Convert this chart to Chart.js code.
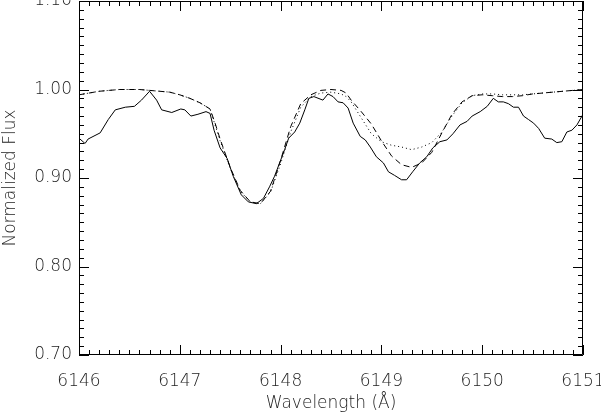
<!DOCTYPE html>
<html>
<head>
<meta charset="utf-8">
<script src="https://cdn.jsdelivr.net/npm/chart.js@4/dist/chart.umd.min.js"></script>
<style>
  html, body { margin: 0; padding: 0; background: #fff; }
  #wrap { width: 601px; height: 414px; }
</style>
</head>
<body>
<div id="wrap"><canvas id="fluxChart" width="601" height="414"></canvas></div>
<script>
// observed spectrum (solid line)
var obsWave = [6146.00, 6146.06, 6146.09, 6146.21, 6146.29, 6146.36, 6146.46, 6146.55, 6146.62, 6146.70,
  6146.77, 6146.82, 6146.92, 6147.01, 6147.05, 6147.11, 6147.18, 6147.26, 6147.30, 6147.34,
  6147.40, 6147.47, 6147.53, 6147.61, 6147.68, 6147.76, 6147.83, 6147.89, 6147.94, 6147.99,
  6148.04, 6148.08, 6148.14, 6148.19, 6148.24, 6148.28, 6148.33, 6148.42, 6148.47, 6148.52,
  6148.57, 6148.62, 6148.67, 6148.72, 6148.79, 6148.84, 6148.89, 6148.95, 6149.02, 6149.07,
  6149.13, 6149.20, 6149.25, 6149.31, 6149.38, 6149.45, 6149.51, 6149.58, 6149.65, 6149.71,
  6149.78, 6149.85, 6149.90, 6149.98, 6150.05, 6150.11, 6150.16, 6150.21, 6150.26, 6150.31,
  6150.36, 6150.41, 6150.46, 6150.51, 6150.56, 6150.62, 6150.69, 6150.74, 6150.79, 6150.84,
  6150.89, 6150.94, 6150.99, 6151.00];
var obsFlux = [0.945, 0.939, 0.944, 0.951, 0.966, 0.977, 0.980, 0.981, 0.988, 0.998,
  0.988, 0.977, 0.974, 0.978, 0.977, 0.970, 0.972, 0.975, 0.973, 0.954,
  0.934, 0.922, 0.902, 0.881, 0.873, 0.871, 0.877, 0.890, 0.902, 0.917,
  0.932, 0.945, 0.952, 0.962, 0.977, 0.990, 0.992, 0.988, 0.995, 0.992,
  0.986, 0.985, 0.979, 0.962, 0.947, 0.943, 0.935, 0.924, 0.917, 0.907,
  0.903, 0.898, 0.898, 0.907, 0.917, 0.924, 0.934, 0.941, 0.943, 0.950,
  0.960, 0.964, 0.970, 0.975, 0.981, 0.990, 0.986, 0.986, 0.984, 0.980,
  0.980, 0.970, 0.966, 0.962, 0.956, 0.945, 0.944, 0.940, 0.941, 0.952,
  0.954, 0.960, 0.970, 0.972];

// synthetic spectra (dashed and dotted)
var modelWave = [6146.0, 6146.1, 6146.2, 6146.3, 6146.4, 6146.5, 6146.6, 6146.7, 6146.8, 6146.9,
  6147.0, 6147.1, 6147.2, 6147.3, 6147.35, 6147.4, 6147.5, 6147.6, 6147.7, 6147.8,
  6147.9, 6148.0, 6148.1, 6148.2, 6148.3, 6148.4, 6148.5, 6148.6, 6148.65, 6148.7,
  6148.8, 6148.9, 6149.0, 6149.1, 6149.2, 6149.3, 6149.4, 6149.5, 6149.6, 6149.7,
  6149.8, 6149.9, 6150.0, 6150.1, 6150.2, 6150.3, 6150.4, 6150.5, 6150.6, 6150.7,
  6150.8, 6150.9, 6151.0];
var dashedFlux = [0.994, 0.996, 0.998, 0.999, 1.000, 1.000, 1.000, 0.999, 0.998, 0.997,
  0.994, 0.990, 0.985, 0.978, 0.962, 0.944, 0.912, 0.886, 0.873, 0.871,
  0.885, 0.920, 0.958, 0.984, 0.994, 0.999, 1.000, 0.999, 0.996, 0.988,
  0.975, 0.961, 0.942, 0.925, 0.915, 0.912, 0.917, 0.929, 0.951, 0.972,
  0.986, 0.993, 0.994, 0.993, 0.992, 0.992, 0.993, 0.995, 0.996, 0.997,
  0.998, 0.999, 1.000];
var dottedFlux = [0.994, 0.996, 0.998, 0.999, 1.000, 1.000, 1.000, 0.999, 0.998, 0.997,
  0.994, 0.990, 0.985, 0.978, 0.960, 0.942, 0.911, 0.885, 0.873, 0.871,
  0.884, 0.916, 0.952, 0.980, 0.992, 0.996, 0.997, 0.995, 0.992, 0.986,
  0.968, 0.950, 0.941, 0.937, 0.935, 0.932, 0.935, 0.940, 0.952, 0.970,
  0.985, 0.993, 0.995, 0.995, 0.994, 0.994, 0.994, 0.995, 0.996, 0.997,
  0.998, 0.999, 1.000];

var xTicks = [6146, 6147, 6148, 6149, 6150, 6151];
var yTicks = [0.70, 0.80, 0.90, 1.00, 1.10];

var fontFamily = '"DejaVu Sans", sans-serif';
var inkColor = '#222';

function pairs(xs, ys) {
  return xs.map(function (x, i) { return { x: x, y: ys[i] }; });
}

// frame with inward major/minor ticks on all four sides
var frameTicks = {
  id: 'frameTicks',
  afterDatasetsDraw: function (chart) {
    var ctx = chart.ctx;
    var a = chart.chartArea;
    var xs = chart.scales.x, ys = chart.scales.y;
    ctx.save();
    ctx.strokeStyle = '#000';
    ctx.lineWidth = 1;
    ctx.beginPath();
    ctx.rect(Math.round(a.left) + 0.5, Math.round(a.top) + 0.5,
      Math.round(a.right - a.left) - 1, Math.round(a.bottom - a.top) - 1);
    ctx.stroke();

    ctx.beginPath();
    for (var i = 0; i <= 50; i++) {
      var v = 6146 + i * 0.1;
      var px = Math.round(xs.getPixelForValue(v)) + 0.5;
      var len = (i % 10 === 0) ? 10 : 5;
      ctx.moveTo(px, a.bottom); ctx.lineTo(px, a.bottom - len);
      ctx.moveTo(px, a.top); ctx.lineTo(px, a.top + len);
    }
    for (var j = 0; j <= 40; j++) {
      var w = 0.70 + j * 0.01;
      var py = Math.round(ys.getPixelForValue(w)) + 0.5;
      var l2 = (j % 10 === 0) ? 10 : 5;
      ctx.moveTo(a.left, py); ctx.lineTo(a.left + l2, py);
      ctx.moveTo(a.right, py); ctx.lineTo(a.right - l2, py);
    }
    ctx.stroke();
    ctx.restore();
  }
};

new Chart(document.getElementById('fluxChart'), {
  type: 'line',
  data: {
    datasets: [{
      label: 'Observed',
      data: pairs(obsWave, obsFlux),
      borderColor: '#000',
      borderWidth: 1,
      pointRadius: 0,
      tension: 0
    }, {
      label: 'Model A',
      data: pairs(modelWave, dashedFlux),
      borderColor: '#000',
      borderWidth: 1,
      borderDash: [6, 4],
      pointRadius: 0,
      tension: 0
    }, {
      label: 'Model B',
      data: pairs(modelWave, dottedFlux),
      borderColor: '#000',
      borderWidth: 1,
      borderDash: [1, 3],
      pointRadius: 0,
      tension: 0
    }]
  },
  options: {
    responsive: false,
    animation: false,
    layout: { padding: { top: 1, right: 18, left: 0, bottom: 0 } },
    plugins: { legend: { display: false }, tooltip: { enabled: false } },
    scales: {
      x: {
        type: 'linear',
        min: 6146,
        max: 6151,
        afterBuildTicks: function (s) { s.ticks = xTicks.map(function (v) { return { value: v }; }); },
        afterFit: function (s) { s.height = 59; s.paddingLeft = 0; s.paddingRight = 0; },
        grid: { display: false, drawTicks: false },
        border: { display: false },
        ticks: {
          padding: 16,
          maxRotation: 0,
          autoSkip: false,
          color: inkColor,
          font: { family: fontFamily, size: 17, weight: '200' },
          callback: function (v) { return String(v); }
        },
        title: {
          display: true,
          text: 'Wavelength (Å)',
          color: inkColor,
          padding: { top: 0, bottom: 0 },
          font: { family: fontFamily, size: 17, weight: '200' }
        }
      },
      y: {
        min: 0.70,
        max: 1.10,
        afterBuildTicks: function (s) { s.ticks = yTicks.map(function (v) { return { value: v }; }); },
        afterFit: function (s) { s.width = 79; s.paddingTop = 0; s.paddingBottom = 0; },
        grid: { display: false, drawTicks: false },
        border: { display: false },
        ticks: {
          padding: 7,
          autoSkip: false,
          color: inkColor,
          font: { family: fontFamily, size: 17, weight: '200' },
          callback: function (v) { return Number(v).toFixed(2); }
        },
        title: {
          display: true,
          text: 'Normalized Flux',
          color: inkColor,
          padding: { top: 0, bottom: 0 },
          font: { family: fontFamily, size: 17, weight: '200' }
        }
      }
    }
  },
  plugins: [frameTicks]
});
</script>
</body>
</html>
